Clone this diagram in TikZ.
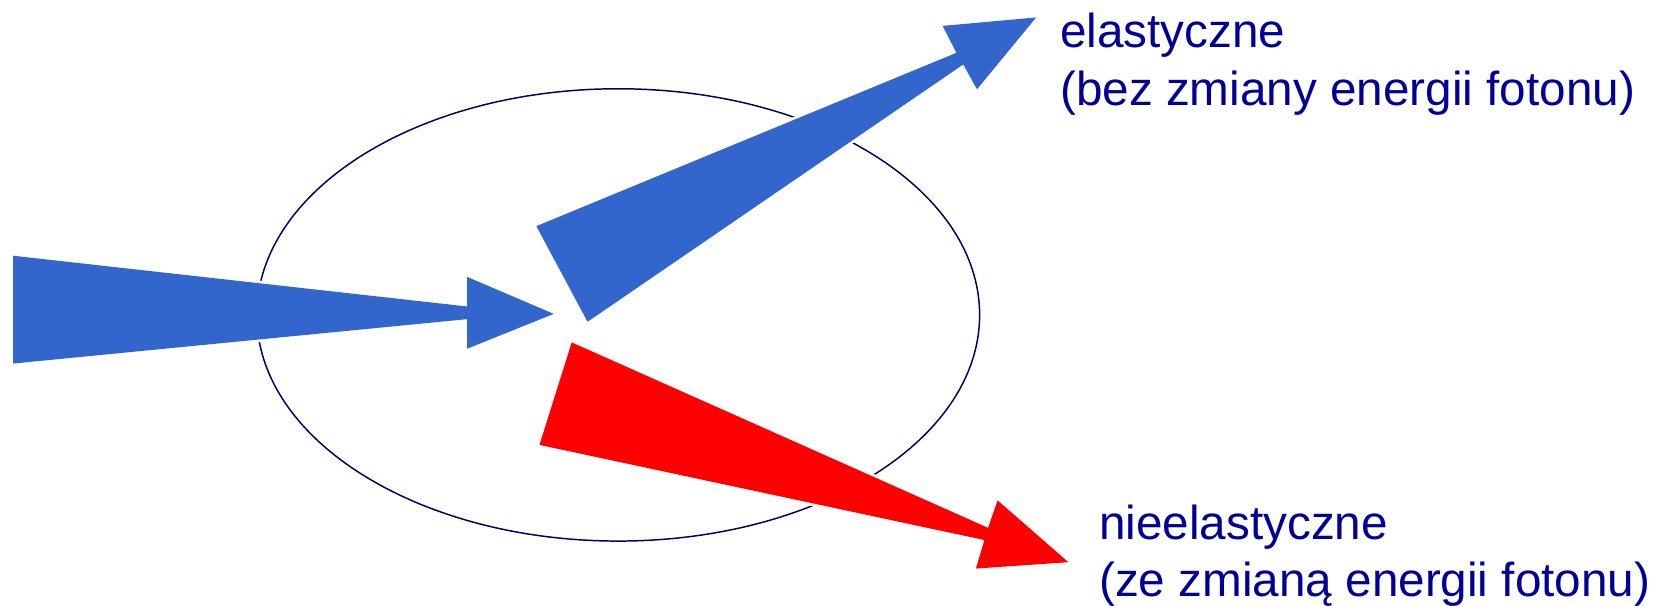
\documentclass[tikz,border=0pt]{standalone}
\usepackage{fontspec}
\setmainfont{Liberation Sans}
\definecolor{arrowblue}{RGB}{51,102,204}
\definecolor{arrowred}{RGB}{255,0,0}
\definecolor{ringnavy}{RGB}{0,0,102}
\definecolor{labelblue}{RGB}{0,0,153}
\tikzset{
  ring/.style={draw=ringnavy, line width=1.4pt},
  fatarrow/.style={fill=#1, preaction={draw=white, line width=5pt, line join=miter}},
  label/.style={anchor=base west, inner sep=0pt, text=labelblue,
    font=\fontsize{45.1}{54}\selectfont},
}
\begin{document}
\begin{tikzpicture}[x=1pt, y=-1pt]
\useasboundingbox (0,0) rectangle (1568,573);
% scattering region
\coordinate (c) at (585,298);
\draw[ring] (c) ellipse [x radius=342, y radius=214];
% incoming photon
\coordinate (inA) at (12.5,242);
\coordinate (inB) at (442,290);
\coordinate (inC) at (442,262);
\coordinate (inTip) at (524,297);
\coordinate (inD) at (442,330);
\coordinate (inE) at (442,302);
\coordinate (inF) at (12.5,344);
\path[fatarrow=arrowblue] (inA) -- (inB) -- (inC) -- (inTip) -- (inD) -- (inE) -- (inF) -- cycle;
% elastic
\coordinate (elA) at (507.5,214);
\coordinate (elB) at (905,50);
\coordinate (elC) at (892,24.5);
\coordinate (elTip) at (980.5,16.5);
\coordinate (elD) at (924.5,84.5);
\coordinate (elE) at (911.5,61);
\coordinate (elF) at (556,304.5);
\path[fatarrow=arrowblue] (elA) -- (elB) -- (elC) -- (elTip) -- (elD) -- (elE) -- (elF) -- cycle;
% inelastic
\coordinate (neA) at (541,324);
\coordinate (neB) at (935,499.5);
\coordinate (neC) at (944,473.5);
\coordinate (neTip) at (1011,532);
\coordinate (neD) at (923.5,538);
\coordinate (neE) at (931.5,511);
\coordinate (neF) at (510.5,421);
\path[fatarrow=arrowred] (neA) -- (neB) -- (neC) -- (neTip) -- (neD) -- (neE) -- (neF) -- cycle;
% labels
\node[label] (el1) at (1003,44.8) {elastyczne};
\node[label] (el2) at (1003,99.4) {(bez zmiany energii fotonu)};
\node[label] (ne1) at (1040,510.4) {nieelastyczne};
\node[label] (ne2) at (1040,564) {(ze zmianą energii fotonu)};
\end{tikzpicture}
\end{document}
